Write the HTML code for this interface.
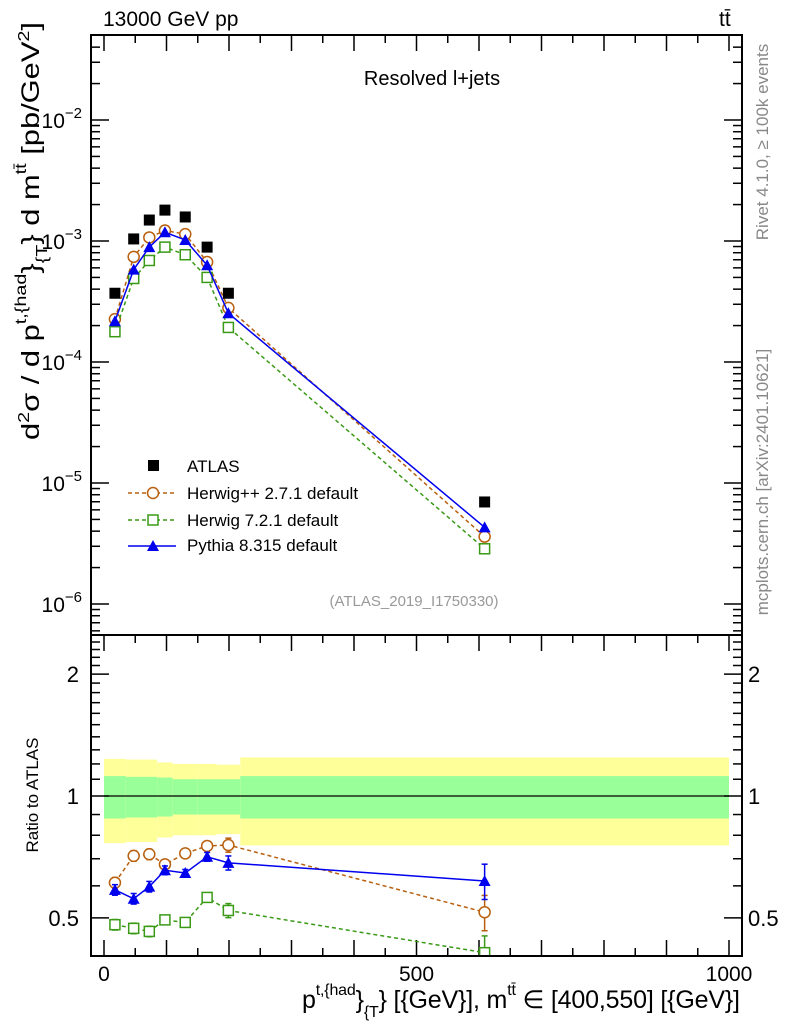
<!DOCTYPE html>
<html><head><meta charset="utf-8"><style>
body{margin:0;background:#fff;}
svg{display:block;font-family:"Liberation Sans",sans-serif;}
</style></head><body>
<svg id="chart" width="786" height="1024" viewBox="0 0 786 1024" xmlns="http://www.w3.org/2000/svg">
<defs><clipPath id="rclip"><rect x="91" y="635" width="651" height="321"/></clipPath></defs>
<g id="bands"></g>
<g id="ticks"></g>
<g id="series"></g>
<rect x="91" y="35" width="651" height="600" fill="none" stroke="#000" stroke-width="2"/>
<rect x="91" y="635" width="651" height="321" fill="none" stroke="#000" stroke-width="2"/>
<text x="103" y="26" font-size="21">13000 GeV pp</text>
<text x="719" y="26" font-size="21">tt̄</text>
<text x="432" y="85" font-size="20" text-anchor="middle">Resolved l+jets</text>
<text x="414" y="606" font-size="15" fill="#999" text-anchor="middle">(ATLAS_2019_I1750330)</text>
<text transform="translate(768,142) rotate(-90)" font-size="17" fill="#888" text-anchor="middle">Rivet 4.1.0, ≥ 100k events</text>
<text transform="translate(768,482) rotate(-90)" font-size="17" fill="#888" text-anchor="middle">mcplots.cern.ch [arXiv:2401.10621]</text>
<text transform="translate(39,440) rotate(-90)" font-size="25" textLength="418" lengthAdjust="spacingAndGlyphs">d<tspan font-size="16" dy="-10">2</tspan><tspan dy="10">σ / d p</tspan><tspan font-size="16" dy="-13">t,{had</tspan><tspan dy="13">}</tspan><tspan font-size="16" dy="8">{T</tspan><tspan dy="-8">} d m</tspan><tspan font-size="16" dy="-13">tt̄</tspan><tspan dy="13"> [pb/GeV</tspan><tspan font-size="16" dy="-10">2</tspan><tspan dy="10">]</tspan></text>
<text transform="translate(38,795) rotate(-90)" font-size="17" text-anchor="middle">Ratio to ATLAS</text>
<text x="302" y="1008" font-size="25" textLength="438">p<tspan font-size="16" dy="-13">t,{had</tspan><tspan dy="13">}</tspan><tspan font-size="16" dy="9">{T</tspan><tspan dy="-9">} [{GeV}], m</tspan><tspan font-size="16" dy="-13">tt̄</tspan><tspan dy="13"> ∈ [400,550] [{GeV}]</tspan></text>
<g>
 <rect x="148" y="460" width="11" height="11" fill="#000"/>
 <text x="187" y="472" font-size="17">ATLAS</text>
 <line x1="128" y1="493" x2="176" y2="493" stroke="#b8600e" stroke-width="1.5" stroke-dasharray="4,3"/>
 <circle cx="153" cy="493" r="5.5" fill="#fff" stroke="#b8600e" stroke-width="1.5"/>
 <text x="187" y="499" font-size="17">Herwig++ 2.7.1 default</text>
 <line x1="128" y1="520" x2="176" y2="520" stroke="#3a9a16" stroke-width="1.5" stroke-dasharray="4,3"/>
 <rect x="148" y="515" width="10" height="10" fill="#fff" stroke="#3a9a16" stroke-width="1.5"/>
 <text x="187" y="526" font-size="17">Herwig 7.2.1 default</text>
 <line x1="128" y1="546" x2="176" y2="546" stroke="#0000ee" stroke-width="1.5"/>
 <polygon points="153,540 159,551 147,551" fill="#0000ee"/>
 <text x="187" y="551" font-size="17">Pythia 8.315 default</text>
</g>
</svg>
<script>
const xCenters=[17.5,47.5,72.5,97.5,130,165,199,609];
const binEdges=[0,35,60,85,110,150,180,218,1000];
const atlas=[3.7e-4,1.04e-3,1.49e-3,1.8e-3,1.58e-3,8.9e-4,3.7e-4,6.97e-6];
const herwigpp=[2.26e-4,7.4e-4,1.07e-3,1.22e-3,1.14e-3,6.7e-4,2.8e-4,3.6e-6];
const herwig7=[1.78e-4,4.9e-4,6.9e-4,8.9e-4,7.7e-4,5.0e-4,1.93e-4,2.86e-6];
const pythia=[2.17e-4,5.8e-4,8.9e-4,1.18e-3,1.02e-3,6.3e-4,2.53e-4,4.3e-6];
const mcRelErr=[0.03,0.03,0.03,0.025,0.02,0.025,0.04,0.1];
const bandTotal=[0.235,0.23,0.23,0.21,0.20,0.20,0.195,0.245];
const bandStat=[0.12,0.115,0.115,0.11,0.10,0.10,0.10,0.12];
const xTickLabels=[0,500,1000];
const yTickExp=[-6,-5,-4,-3,-2];
const ratioTickLabels=[0.5,1,2];

const NS="http://www.w3.org/2000/svg";
const X=v=>104+v*0.625;
const Y=v=>120-(Math.log10(v)+2)*121;
const R=v=>796-Math.log10(v)*405;
function mk(tag,attrs,parent){const e=document.createElementNS(NS,tag);for(const k in attrs)e.setAttribute(k,attrs[k]);parent.appendChild(e);return e;}
const gB=document.getElementById('bands'),gT=document.getElementById('ticks'),gS=document.getElementById('series');

for(let i=0;i<xCenters.length;i++){
 const x0=X(binEdges[i]),x1=X(binEdges[i+1]);
 const y=mk('rect',{x:x0,y:R(1+bandTotal[i]),width:x1-x0,height:R(1-bandTotal[i])-R(1+bandTotal[i]),fill:'#ffff99'},gB);
 
 
 const g=mk('rect',{x:x0,y:R(1+bandStat[i]),width:x1-x0,height:R(1-bandStat[i])-R(1+bandStat[i]),fill:'#99ff99'},gB);
 
 
}
const ref=mk('line',{x1:X(0),x2:X(1000),y1:R(1),y2:R(1),stroke:'#000','stroke-width':1.2},gB);



for(let v=0;v<=1000;v+=50){
 const major=v%100===0, len=major?16:8;
 mk('line',{x1:X(v),x2:X(v),y1:35,y2:35+len,stroke:'#000','stroke-width':1.5},gT);
 mk('line',{x1:X(v),x2:X(v),y1:635,y2:635+len,stroke:'#000','stroke-width':1.5},gT);
 mk('line',{x1:X(v),x2:X(v),y1:956,y2:956-len,stroke:'#000','stroke-width':1.5},gT);
}
xTickLabels.forEach(v=>{const t=mk('text',{x:X(v),y:981,'font-size':21,'text-anchor':'middle'},gT);t.textContent=v;
 
 });
for(let e=-7;e<=-2;e++){for(let m=1;m<10;m++){const v=m*Math.pow(10,e);const y=Y(v);if(y<36||y>634)continue;
 const len=m===1?18:9;
 mk('line',{x1:91,x2:91+len,y1:y,y2:y,stroke:'#000','stroke-width':1.5},gT);
 mk('line',{x1:742,x2:742-len,y1:y,y2:y,stroke:'#000','stroke-width':1.5},gT);}}
yTickExp.forEach(e=>{const t=mk('text',{x:82,y:Y(Math.pow(10,e))+8,'font-size':21,'text-anchor':'end'},gT);
 t.innerHTML='10<tspan font-size="15" dy="-10">'+(e<0?'−':'')+Math.abs(e)+'</tspan>';
 
 });
for(let v=0.4;v<2.5;v+=0.1){const vv=Math.round(v*10)/10;const y=R(vv);if(y<636||y>955)continue;
 const len=(vv===0.5||vv===1||vv===2)?18:9;
 mk('line',{x1:91,x2:91+len,y1:y,y2:y,stroke:'#000','stroke-width':1.5},gT);
 mk('line',{x1:742,x2:742-len,y1:y,y2:y,stroke:'#000','stroke-width':1.5},gT);}
ratioTickLabels.forEach(v=>{const t=mk('text',{x:79,y:R(v)+8,'font-size':22,'text-anchor':'end'},gT);t.textContent=v;
 
 
 const t2=mk('text',{x:748,y:R(v)+8,'font-size':22},gT);t2.textContent=v;
 
 });

function marker(type,cx,cy,col,p){
 let e;
 if(type==='circle')e=mk('circle',{cx:cx,cy:cy,r:5.5,fill:'#fff',stroke:col,'stroke-width':1.5},p);
 else if(type==='square')e=mk('rect',{x:cx-5,y:cy-5,width:10,height:10,fill:'#fff',stroke:col,'stroke-width':1.5},p);
 else e=mk('polygon',{points:`${cx},${cy-6} ${cx+6},${cy+5} ${cx-6},${cy+5}`,fill:col},p);
 return e;
}
const mcs=[
 {name:'herwigpp',vals:herwigpp,col:'#b8600e',dash:'4,3',m:'circle'},
 {name:'herwig7',vals:herwig7,col:'#3a9a16',dash:'4,3',m:'square'},
 {name:'pythia',vals:pythia,col:'#0000ee',dash:'',m:'tri'}];
mcs.forEach(s=>{
 const g=mk('g',{},gS);
 
 
 const gr=mk('g',{'clip-path':'url(#rclip)'},g);
 const main=s.vals.map((v,i)=>X(xCenters[i])+','+Y(v)).join(' ');
 const rat=s.vals.map((v,i)=>X(xCenters[i])+','+R(v/atlas[i])).join(' ');
 const a={fill:'none',stroke:s.col,'stroke-width':1.5};if(s.dash)a['stroke-dasharray']=s.dash;
 mk('polyline',Object.assign({points:main},a),g);
 mk('polyline',Object.assign({points:rat},a),gr);
 s.vals.forEach((v,i)=>{
  const x=X(xCenters[i]),r=v/atlas[i];
  const y1=R(r*(1+mcRelErr[i])),y2=R(r*(1-mcRelErr[i]));
  mk('line',{x1:x,x2:x,y1:y1,y2:y2,stroke:s.col,'stroke-width':1.5},gr);
  mk('line',{x1:x-3,x2:x+3,y1:y1,y2:y1,stroke:s.col,'stroke-width':1.5},gr);
  mk('line',{x1:x-3,x2:x+3,y1:y2,y2:y2,stroke:s.col,'stroke-width':1.5},gr);
  const m1=marker(s.m,x,Y(v),s.col,g);
  
  
  const m2=marker(s.m,x,R(r),s.col,gr);
  
  
 });
});
atlas.forEach((v,i)=>{
 const r=mk('rect',{x:X(xCenters[i])-5.5,y:Y(v)-5.5,width:11,height:11,fill:'#000'},gS);
 
 
});
</script>
</body></html>
